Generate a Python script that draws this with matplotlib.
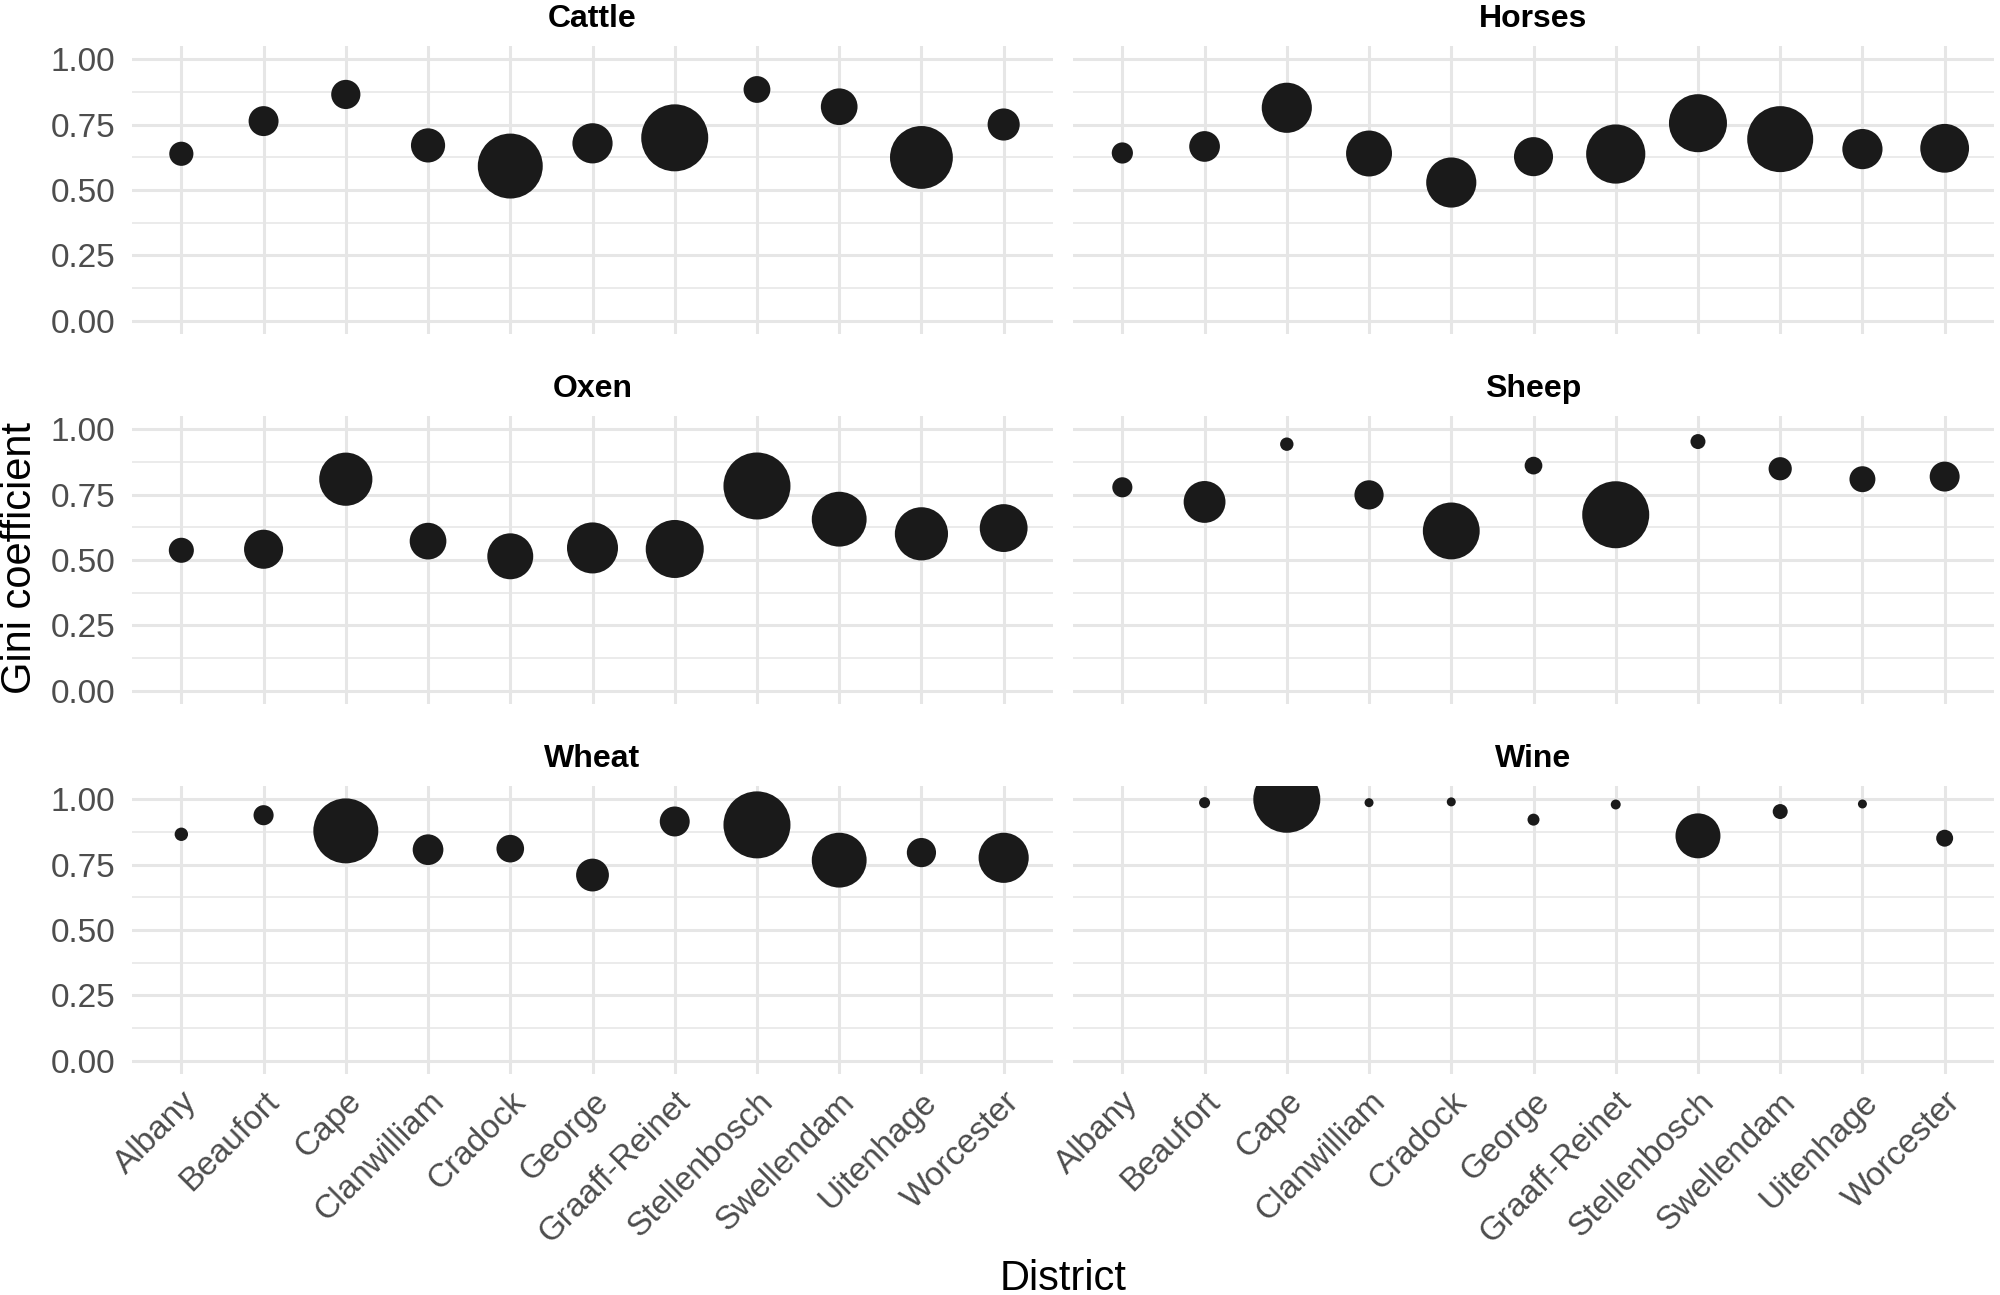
import numpy as np
import matplotlib.pyplot as plt

plt.rcParams['font.family'] = ['Liberation Sans', 'DejaVu Sans']

districts = ['Albany', 'Beaufort', 'Cape', 'Clanwilliam', 'Cradock', 'George',
             'Graaff-Reinet', 'Stellenbosch', 'Swellendam', 'Uitenhage', 'Worcester']

# Gini coefficient per district, and relative weight (mapped to point area)
cattle_gini = [0.639, 0.764, 0.866, 0.671, 0.592, 0.679, 0.700, 0.885, 0.819, 0.625, 0.751]
cattle_weight = [0.13, 0.20, 0.19, 0.26, 0.94, 0.36, 1.00, 0.16, 0.30, 0.88, 0.23]

horses_gini = [0.642, 0.667, 0.815, 0.640, 0.529, 0.628, 0.638, 0.756, 0.695, 0.657, 0.660]
horses_weight = [0.10, 0.21, 0.56, 0.47, 0.56, 0.34, 0.78, 0.75, 0.97, 0.36, 0.53]

oxen_gini = [0.537, 0.541, 0.809, 0.572, 0.514, 0.546, 0.542, 0.783, 0.656, 0.600, 0.622]
oxen_weight = [0.14, 0.34, 0.63, 0.30, 0.47, 0.58, 0.75, 1.00, 0.67, 0.63, 0.51]

sheep_gini = [0.778, 0.722, 0.943, 0.749, 0.611, 0.861, 0.673, 0.953, 0.849, 0.809, 0.819]
sheep_weight = [0.09, 0.39, 0.04, 0.19, 0.72, 0.07, 1.00, 0.05, 0.12, 0.15, 0.20]

wheat_gini = [0.866, 0.939, 0.879, 0.807, 0.811, 0.710, 0.915, 0.902, 0.767, 0.796, 0.776]
wheat_weight = [0.04, 0.09, 0.94, 0.21, 0.17, 0.24, 0.20, 1.00, 0.67, 0.19, 0.56]

wine_gini = [np.nan, 0.987, 1.000, 0.987, 0.990, 0.922, 0.980, 0.860, 0.953, 0.982, 0.851]
wine_weight = [np.nan, 0.027, 1.00, 0.018, 0.018, 0.032, 0.022, 0.45, 0.05, 0.018, 0.064]

panels = [
    ('Cattle', cattle_gini, cattle_weight),
    ('Horses', horses_gini, horses_weight),
    ('Oxen', oxen_gini, oxen_weight),
    ('Sheep', sheep_gini, sheep_weight),
    ('Wheat', wheat_gini, wheat_weight),
    ('Wine', wine_gini, wine_weight),
]

fig = plt.figure(figsize=(20, 12.95), dpi=100)

lefts = [0.066, 0.5365]
bottoms = [0.7422, 0.4566, 0.1709]
w, h = 0.4605, 0.2220
max_area = 2327  # points^2 for weight 1

x = np.arange(len(districts))
grid_col = '#e6e6e6'

for i, (name, gini, weight) in enumerate(panels):
    row, col = divmod(i, 2)
    ax = fig.add_axes([lefts[col], bottoms[row], w, h])
    ax.set_axisbelow(True)
    ax.scatter(x, gini, s=np.array(weight) * max_area, color='#1a1a1a',
               linewidths=0, zorder=3)
    ax.set_xlim(-0.6, len(districts) - 0.4)
    ax.set_ylim(-0.05, 1.05)
    ax.set_yticks([0, 0.25, 0.5, 0.75, 1.0])
    ax.set_yticks([0.125, 0.375, 0.625, 0.875], minor=True)
    ax.set_xticks(x)
    ax.grid(which='major', color=grid_col, linewidth=2.2)
    ax.grid(which='minor', axis='y', color=grid_col, linewidth=1.1)
    for s in ax.spines.values():
        s.set_visible(False)
    ax.tick_params(which='both', length=0)
    ax.tick_params(axis='y', labelsize=24, labelcolor='#4d4d4d', pad=12)
    if col == 0:
        ax.set_yticklabels(['0.00', '0.25', '0.50', '0.75', '1.00'])
    else:
        ax.set_yticklabels([])
    if row == 2:
        ax.set_xticklabels(districts, rotation=45, ha='right', va='top',
                           rotation_mode='anchor', fontsize=24, color='#4d4d4d')
        ax.tick_params(axis='x', pad=9)
    else:
        ax.set_xticklabels([])
    ax.set_title(name, fontsize=23, fontweight='bold', pad=14)

fig.text(0.01, 0.569, 'Gini coefficient', rotation=90, fontsize=30,
         ha='center', va='center')
fig.text(0.5315, 0.0125, 'District', fontsize=30, ha='center', va='center')

fig.savefig('out.png', dpi=100, facecolor='white')
